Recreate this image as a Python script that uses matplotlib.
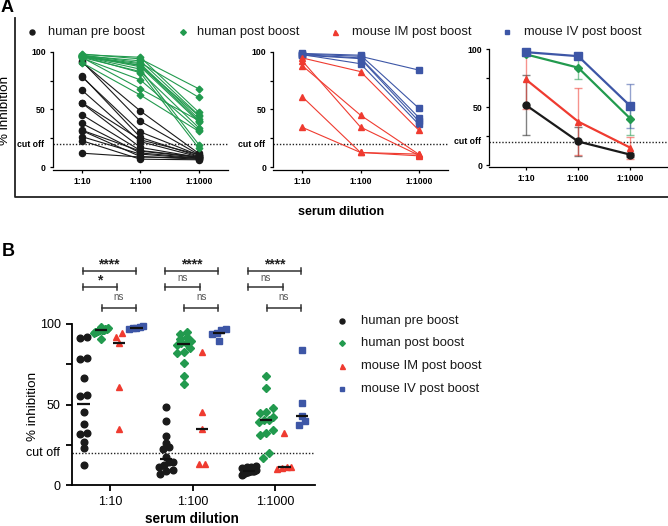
import matplotlib
matplotlib.use('Agg')
import matplotlib.pyplot as plt
import matplotlib.colors as mcolors
import numpy as np
from matplotlib.lines import Line2D

plt.rcParams['font.family'] = ['Liberation Sans', 'DejaVu Sans']

dilutions = ['1:10', '1:100', '1:1000']
groups = ['human pre boost', 'human post boost', 'mouse IM post boost', 'mouse IV post boost']
colors = ['#1a1a1a', '#229a4e', '#ef3b30', '#3d56a6']
markers = ['o', 'D', '^', 's']
cutoff = 20

# one entry per subject, same order in the three dilution lists
pre_10 = [91.7, 91.0, 79.0, 78.3, 66.7, 55.9, 55.5, 45.5, 37.9, 32.1, 31.7, 26.5, 23.0, 12.2]
pre_100 = [39.8, 48.7, 25.9, 30.6, 22.2, 23.8, 17.2, 14.5, 12.4, 14.0, 9.3, 11.4, 7.0, 8.9]
pre_1000 = [11.0, 12.0, 9.5, 10.5, 9.0, 11.0, 8.5, 9.0, 8.0, 8.5, 7.0, 7.5, 6.5, 8.0]

post_10 = [97.5, 98.0, 96.5, 97.0, 96.0, 95.5, 97.0, 96.5, 96.0, 95.0, 96.0, 94.5, 95.0, 90.5]
post_100 = [95.2, 93.8, 92.1, 90.5, 89.6, 88.4, 88.0, 87.0, 84.9, 82.8, 81.8, 75.6, 67.9, 62.5]
post_1000 = [47.6, 67.9, 45.1, 60.5, 42.0, 40.4, 44.5, 39.3, 19.7, 34.2, 16.6, 32.1, 40.4, 31.1]

im_10 = [94.6, 92.1, 88.0, 61.1, 34.6]
im_100 = [82.8, 34.8, 45.1, 12.8, 12.8]
im_1000 = [32.1, 10.4, 11.2, 11.4, 9.9]

iv_10 = [98.5, 98.0, 97.5, 97.0, 97.5]
iv_100 = [97.0, 96.0, 94.6, 94.0, 89.6]
iv_1000 = [51.1, 84.1, 43.0, 39.8, 37.1]

stars = [['****', '*', 'ns'], ['****', 'ns', 'ns'], ['****', 'ns', 'ns']]

series = [np.array([pre_10, pre_100, pre_1000]),
          np.array([post_10, post_100, post_1000]),
          np.array([im_10, im_100, im_1000]),
          np.array([iv_10, iv_100, iv_1000])]

W, H = 668, 526
fig = plt.figure(figsize=(W / 100, H / 100), dpi=100)


def fx(x):
    return x / W


def fy(y):
    return 1 - y / H


def add_ax(x0, x1, ytop, ybot):
    return fig.add_axes([fx(x0), fy(ybot), (x1 - x0) / W, (ybot - ytop) / H])


def style(ax, xlim, ylim, fs, bold, tl, pad, lw):
    ax.set_xlim(*xlim)
    ax.set_ylim(*ylim)
    for s in ['top', 'right']:
        ax.spines[s].set_visible(False)
    for s in ['left', 'bottom']:
        ax.spines[s].set_linewidth(lw)
    ax.spines['left'].set_bounds(0, 100)
    ax.set_yticks([0, 25, 50, 75, 100])
    ax.set_yticklabels(['0', '', '50', '', '100'])
    ax.set_xticks([0, 1, 2])
    ax.set_xticklabels(dilutions)
    ax.tick_params(labelsize=fs, length=tl, width=lw, pad=pad)
    w = 'bold' if bold else 'normal'
    for lab in ax.get_xticklabels() + ax.get_yticklabels():
        lab.set_fontweight(w)
    ax.axhline(cutoff, color='#222222', ls=(0, (1, 1.3)), lw=1.0, zorder=0)
    ax.annotate('cut off', xy=(0, cutoff), xycoords=('axes fraction', 'data'),
                xytext=(-tl - pad - 1, 0), textcoords='offset points',
                ha='right', va='center', fontsize=fs, fontweight=w)


# ---------- panel A ----------
a_kw = dict(fs=6.3, bold=True, tl=2.5, pad=2.5, lw=0.9)
ax1 = add_ax(52.7, 228, 51.7, 169.6)
ax2 = add_ax(273, 448, 51.7, 169.6)
ax3 = add_ax(489.3, 667, 49.5, 167.4)
style(ax1, (-0.5, 2.5), (-2, 100), **a_kw)
style(ax2, (-0.5, 2.5), (-2, 100), **a_kw)
style(ax3, (-0.7, 2.7), (-2, 100), **a_kw)

x = np.arange(3)
for gi, ax, ms in [(0, ax1, 4.4), (1, ax1, 3.4), (3, ax2, 4.4), (2, ax2, 4.4)]:
    d = series[gi]
    for j in range(d.shape[1]):
        ax.plot(x, d[:, j], color=colors[gi], lw=0.8, marker=markers[gi], ms=ms,
                mec=colors[gi], mfc=colors[gi], clip_on=False)

for gi, ms in [(0, 5.0), (2, 5.0), (1, 4.2), (3, 5.4)]:
    d = series[gi]
    m = d.mean(axis=1)
    sd = d.std(axis=1, ddof=1)
    ec = mcolors.to_rgba(colors[gi], 0.55)
    ax3.errorbar(x, m, yerr=sd, color=colors[gi], ecolor=ec, elinewidth=1.0,
                 capsize=3, capthick=1.0, lw=1.6, marker=markers[gi], ms=ms,
                 clip_on=False)

# frame around panel A
fig.add_artist(Line2D([fx(15), fx(15), fx(668)], [fy(18), fy(197), fy(197)],
                      transform=fig.transFigure, color='#222222', lw=1.3))
fig.text(fx(7), fy(8), 'A', fontsize=13, fontweight='bold', ha='center', va='center')
fig.text(fx(5), fy(110), '% inhibition', rotation=90, fontsize=9.7, ha='center', va='center')
fig.text(fx(341), fy(212), 'serum dilution', fontsize=9, fontweight='bold', ha='center', va='center')

leg_a_mx = [32, 183, 335, 507]
leg_a_tx = [48, 197, 352, 524]
leg_ms = [3.6, 2.9, 3.6, 3.4]
for gi in range(4):
    fig.add_artist(Line2D([fx(leg_a_mx[gi])], [fy(32)], transform=fig.transFigure,
                          marker=markers[gi], ms=leg_ms[gi], color=colors[gi], ls='none'))
    fig.text(fx(leg_a_tx[gi]), fy(32), groups[gi], fontsize=9.3, ha='left', va='center',
             color='#1a1a1a')

# ---------- panel B ----------
axb = add_ax(72, 315, 324, 485)
style(axb, (-0.46, 2.48), (0, 100), fs=9, bold=False, tl=4, pad=4, lw=1.3)

px_x = 243 / 2.94
px_y = 161 / 100.0
offs = [-0.32, -0.11, 0.11, 0.32]
b_ms = [4.8, 4.0, 4.8, 4.6]


def swarm(vals, diam=6.5, thr=5.0, maxw=14.0):
    vals = np.asarray(vals)
    order = np.argsort(vals)
    out = np.zeros(len(vals))
    rows, cur = [], [order[0]]
    for i in order[1:]:
        if (vals[i] - vals[cur[0]]) * px_y < thr:
            cur.append(i)
        else:
            rows.append(cur)
            cur = [i]
    rows.append(cur)
    for r in rows:
        n = len(r)
        step = diam if n < 2 else min(diam, maxw / (n - 1))
        for k, i in enumerate(r):
            out[i] = (k - (n - 1) / 2) * step / px_x
    return out


for gi in range(4):
    d = series[gi]
    for di in range(3):
        v = d[di]
        xs = di + offs[gi] + swarm(v)
        axb.plot(xs, v, ls='none', marker=markers[gi], ms=b_ms[gi], color=colors[gi],
                 clip_on=False, zorder=3)
        med = np.median(v)
        axb.plot([di + offs[gi] - 0.075, di + offs[gi] + 0.075], [med, med],
                 color='#111111', lw=1.6, zorder=5, solid_capstyle='butt')

# significance brackets
rows_b = [(-0.33, 0.31, 132.9, 138.5), (-0.33, 0.09, 123.0, 128.5), (-0.10, 0.31, 110.0, 117.0)]
for di in range(3):
    for ri, (a, b, yb, yt) in enumerate(rows_b):
        x0, x1 = di + a, di + b
        axb.plot([x0, x1], [yb, yb], color='#333333', lw=1.1, clip_on=False)
        for xe in (x0, x1):
            axb.plot([xe, xe], [yb - 2.0, yb + 2.0], color='#333333', lw=1.1, clip_on=False)
        s = stars[di][ri]
        if s == 'ns':
            axb.text((x0 + x1) / 2, yt, s, fontsize=7, color='#555555', ha='center', va='center')
        else:
            axb.text((x0 + x1) / 2, yt - 1.5, s, fontsize=10, fontweight='bold',
                     color='#222222', ha='center', va='center')

fig.text(fx(8), fy(252), 'B', fontsize=13, fontweight='bold', ha='center', va='center')
fig.text(fx(33), fy(406), '% inhibition', rotation=90, fontsize=9.7, ha='center', va='center')
fig.text(fx(192), fy(519), 'serum dilution', fontsize=9.8, fontweight='bold', ha='center', va='center')

leg_b_y = [321, 343, 366, 389]
for gi in range(4):
    fig.add_artist(Line2D([fx(342)], [fy(leg_b_y[gi])], transform=fig.transFigure,
                          marker=markers[gi], ms=leg_ms[gi], color=colors[gi], ls='none'))
    fig.text(fx(361), fy(leg_b_y[gi]), groups[gi], fontsize=9.4, ha='left', va='center',
             color='#1a1a1a')

fig.savefig('out.png', dpi=100)
